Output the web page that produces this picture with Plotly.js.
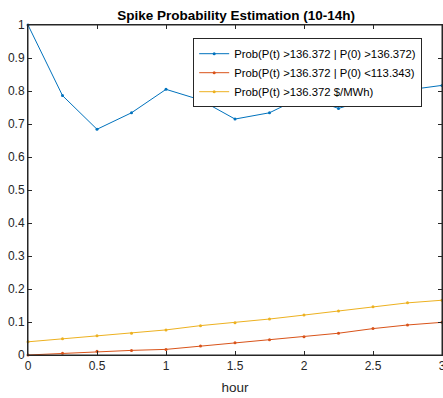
<!DOCTYPE html>
<html><head><meta charset="utf-8">
<script src="https://cdn.plot.ly/plotly-3.0.1.min.js"></script>
<style>html,body{margin:0;padding:0;background:#fff}#c{width:443px;height:398px}</style>
</head><body><div id="c"></div>
<script>
const hours = [0, 0.25, 0.5, 0.75, 1, 1.25, 1.5, 1.75, 2, 2.25, 2.5, 2.75, 3];
const probHighGivenHigh = [1.0, 0.786, 0.684, 0.734, 0.805, 0.773, 0.715, 0.734, 0.785, 0.747, 0.780, 0.803, 0.817];
const probHighGivenLow = [0.0, 0.005, 0.011, 0.014, 0.017, 0.027, 0.037, 0.046, 0.055, 0.066, 0.080, 0.091, 0.099];
const probHigh = [0.040, 0.049, 0.058, 0.066, 0.076, 0.089, 0.098, 0.109, 0.121, 0.133, 0.146, 0.158, 0.166];
const seriesNames = ["Prob(P(t) >136.372 | P(0) >136.372)", "Prob(P(t) >136.372 | P(0) <113.343)", "Prob(P(t) >136.372 $/MWh)"];
const colors = ["#0072BD", "#D95319", "#EDB120"];
const seriesData = [probHighGivenHigh, probHighGivenLow, probHigh];
const xTicks = [0, 0.5, 1, 1.5, 2, 2.5, 3];
const xTickText = ['0', '0.5', '1', '1.5', '2', '2.5', '3'];
const yTicks = [0, 0.1, 0.2, 0.3, 0.4, 0.5, 0.6, 0.7, 0.8, 0.9, 1];
const yTickText = ['0', '0.1', '0.2', '0.3', '0.4', '0.5', '0.6', '0.7', '0.8', '0.9', '1'];

const FONT = 'Liberation Sans, Arial, Helvetica, sans-serif';

const traces = seriesData.map((ys, i) => ({
  x: hours, y: ys, name: seriesNames[i], type: 'scatter', mode: 'lines+markers',
  line: {color: colors[i], width: 1}, marker: {color: colors[i], size: 3}, cliponaxis: false
}));

const axisCommon = {
  showgrid: false, zeroline: false, showline: true, linecolor: '#262626', linewidth: 1,
  mirror: 'allticks', ticks: 'inside', ticklen: 4, tickcolor: '#262626',
  tickfont: {family: FONT, size: 12, color: '#262626'}
};

const layout = {
  width: 443, height: 398,
  margin: {l: 28, r: 1, t: 25, b: 43},
  paper_bgcolor: '#fff', plot_bgcolor: '#fff',
  title: {text: '<b>Spike Probability Estimation (10-14h)</b>', font: {family: FONT, size: 13.5, color: '#000'},
    xref: 'container', x: 0.533, xanchor: 'center', yref: 'container', y: 0.962, yanchor: 'middle'},
  xaxis: Object.assign({}, axisCommon, {range: [0, 3], tickvals: xTicks, ticktext: xTickText, ticklabeloverflow: 'allow',
    title: {text: 'hour', font: {family: FONT, size: 13.5, color: '#262626'}, standoff: 10}}),
  yaxis: Object.assign({}, axisCommon, {range: [0, 1], tickvals: yTicks, ticktext: yTickText, ticklabeloverflow: 'allow'}),
  shapes: [{type: 'rect', xref: 'paper', yref: 'paper', x0: 0, x1: 1, y0: 0, y1: 1, layer: 'above',
    line: {color: '#262626', width: 1}, fillcolor: 'rgba(0,0,0,0)'}],
  showlegend: true,
  legend: {x: 0.399, y: 0.96, xanchor: 'left', yanchor: 'top', bgcolor: '#fff', bordercolor: '#262626', borderwidth: 1,
    font: {family: FONT, size: 11.3, color: '#000'}, tracegroupgap: 0}
};

Plotly.newPlot('c', traces, layout, {displayModeBar: false, staticPlot: true});
</script></body></html>
